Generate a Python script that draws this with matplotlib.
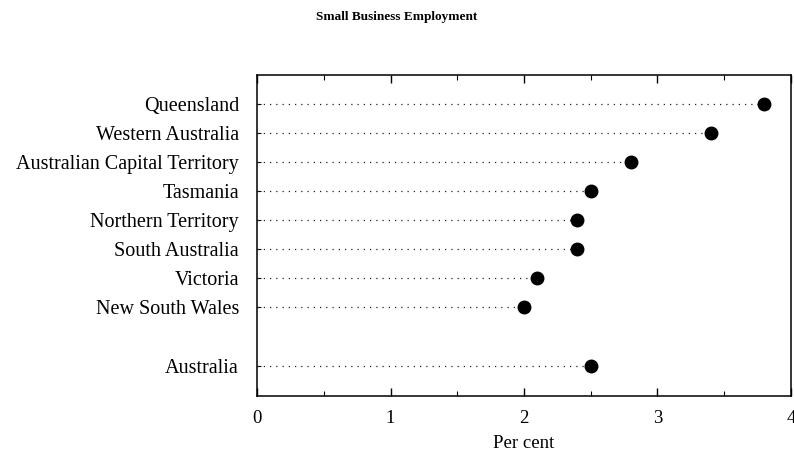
import matplotlib.pyplot as plt
from matplotlib.ticker import MultipleLocator

# states in display order (top to bottom), with a gap before the national figure
regions = ['Queensland', 'Western Australia', 'Australian Capital Territory',
           'Tasmania', 'Northern Territory', 'South Australia', 'Victoria',
           'New South Wales', 'Australia']
growth = [3.8, 3.4, 2.8, 2.5, 2.4, 2.4, 2.1, 2.0, 2.5]
rows = [0, 1, 2, 3, 4, 5, 6, 7, 9]
xticks = [0, 1, 2, 3, 4]

plt.rcParams['font.family'] = ['Liberation Serif', 'DejaVu Serif']

fig = plt.figure(figsize=(7.94, 4.61), dpi=100)
ax = fig.add_axes([0.3237, 0.141, 0.9962 - 0.3237, 0.837 - 0.141])

# dotted leader lines then the dots
ax.hlines(rows, 0, growth, colors='#222222', linewidth=0.9,
          linestyles=(0, (1, 4)))
ax.plot(growth, rows, 'o', color='black', markersize=9, zorder=3)

ax.set_xlim(0, 4)
ax.set_ylim(10.05, -1.0)
ax.set_xticks(xticks)
ax.xaxis.set_minor_locator(MultipleLocator(0.5))
ax.set_yticks(rows)
ax.set_yticklabels(regions, fontsize=14.5)

ax.tick_params(axis='x', which='major', direction='in', length=6, width=1,
               top=True, labelsize=13.5, pad=10)
ax.tick_params(axis='x', which='minor', direction='in', length=3.5, width=0.8,
               top=True)
ax.tick_params(axis='y', direction='in', length=3, width=0.8, pad=13)

for s in ax.spines.values():
    s.set_linewidth(1.1)

ax.set_xlabel('Per cent', fontsize=13.5, labelpad=6)
fig.text(0.5, 1 - 17 / 461, 'Small Business Employment', ha='center',
         va='center', fontsize=9.5, fontweight='bold')

fig.savefig('out.png', dpi=100)
